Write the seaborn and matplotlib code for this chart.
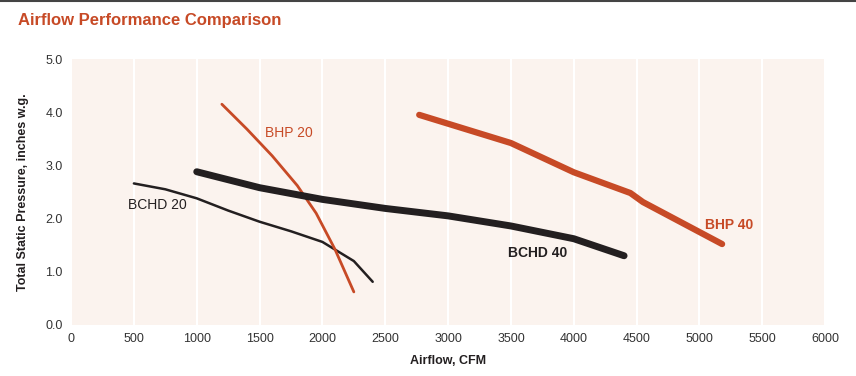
import pandas as pd
import numpy as np
import matplotlib.pyplot as plt
import seaborn as sns
from matplotlib.lines import Line2D

sns.set_theme(style="white")
plt.rcParams["font.family"] = ["Liberation Sans", "DejaVu Sans"]

ORANGE = "#C74A26"
BLACK = "#231F20"

# curve data
bchd20_x = [500, 750, 1000, 1250, 1500, 1750, 2000, 2250, 2400]
bchd20_y = [2.66, 2.55, 2.38, 2.15, 1.94, 1.76, 1.56, 1.20, 0.81]

bhp20_x = [1200, 1400, 1600, 1800, 1950, 2100, 2250]
bhp20_y = [4.15, 3.68, 3.18, 2.62, 2.10, 1.42, 0.62]

bchd40_x = [1000, 1500, 2000, 2500, 3000, 3500, 4000, 4400]
bchd40_y = [2.88, 2.58, 2.36, 2.19, 2.05, 1.86, 1.62, 1.30]

bhp40_x = [2770, 3500, 4000, 4450, 4550, 5180]
bhp40_y = [3.95, 3.42, 2.87, 2.48, 2.31, 1.52]

x_ticks = list(range(0, 6001, 500))
y_ticks = [0.0, 1.0, 2.0, 3.0, 4.0, 5.0]

fig = plt.figure(figsize=(8.56, 3.76), dpi=100)
ax = fig.add_axes([0.083, 0.136, 0.881, 0.707])
ax.set_facecolor("#FBF3EE")

series = [
    (bchd20_x, bchd20_y, BLACK, 1.8),
    (bhp20_x, bhp20_y, ORANGE, 2.0),
    (bchd40_x, bchd40_y, BLACK, 5.0),
    (bhp40_x, bhp40_y, ORANGE, 4.5),
]
for xs, ys, c, lw in series:
    df = pd.DataFrame({"x": xs, "y": ys})
    sns.lineplot(data=df, x="x", y="y", color=c, linewidth=lw, ax=ax,
                 solid_capstyle="round", sort=False)

ax.set_xlim(0, 6000)
ax.set_ylim(0, 5)
ax.set_xticks(x_ticks)
ax.set_yticks(y_ticks)
ax.set_xticklabels([str(t) for t in x_ticks], fontsize=9, color="#333333")
ax.set_yticklabels([f"{t:.1f}" for t in y_ticks], fontsize=9, color="#333333")
ax.tick_params(axis="both", length=0, pad=6)
ax.grid(axis="x", color="white", linewidth=1.5)
ax.grid(axis="y", visible=False)
for s in ax.spines.values():
    s.set_visible(False)

ax.set_xlabel("Airflow, CFM", fontweight="bold", fontsize=9, color=BLACK, labelpad=7)
ax.set_ylabel("Total Static Pressure, inches w.g.", fontweight="bold",
              fontsize=9, color=BLACK, labelpad=12)

ax.text(1540, 3.6, "BHP 20", color=ORANGE, fontsize=10, va="center")
ax.text(450, 2.25, "BCHD 20", color=BLACK, fontsize=10, va="center")
ax.text(3480, 1.35, "BCHD 40", color=BLACK, fontsize=10, fontweight="bold", va="center")
ax.text(5040, 1.88, "BHP 40", color=ORANGE, fontsize=10, fontweight="bold", va="center")

fig.text(0.021, 0.945, "Airflow Performance Comparison", color=ORANGE, fontsize=12,
         fontweight="bold", va="center")
fig.add_artist(Line2D([0, 1], [0.998, 0.998], color="#444444", linewidth=1.5,
                      transform=fig.transFigure))

fig.savefig("out.png", dpi=100, facecolor="white")
